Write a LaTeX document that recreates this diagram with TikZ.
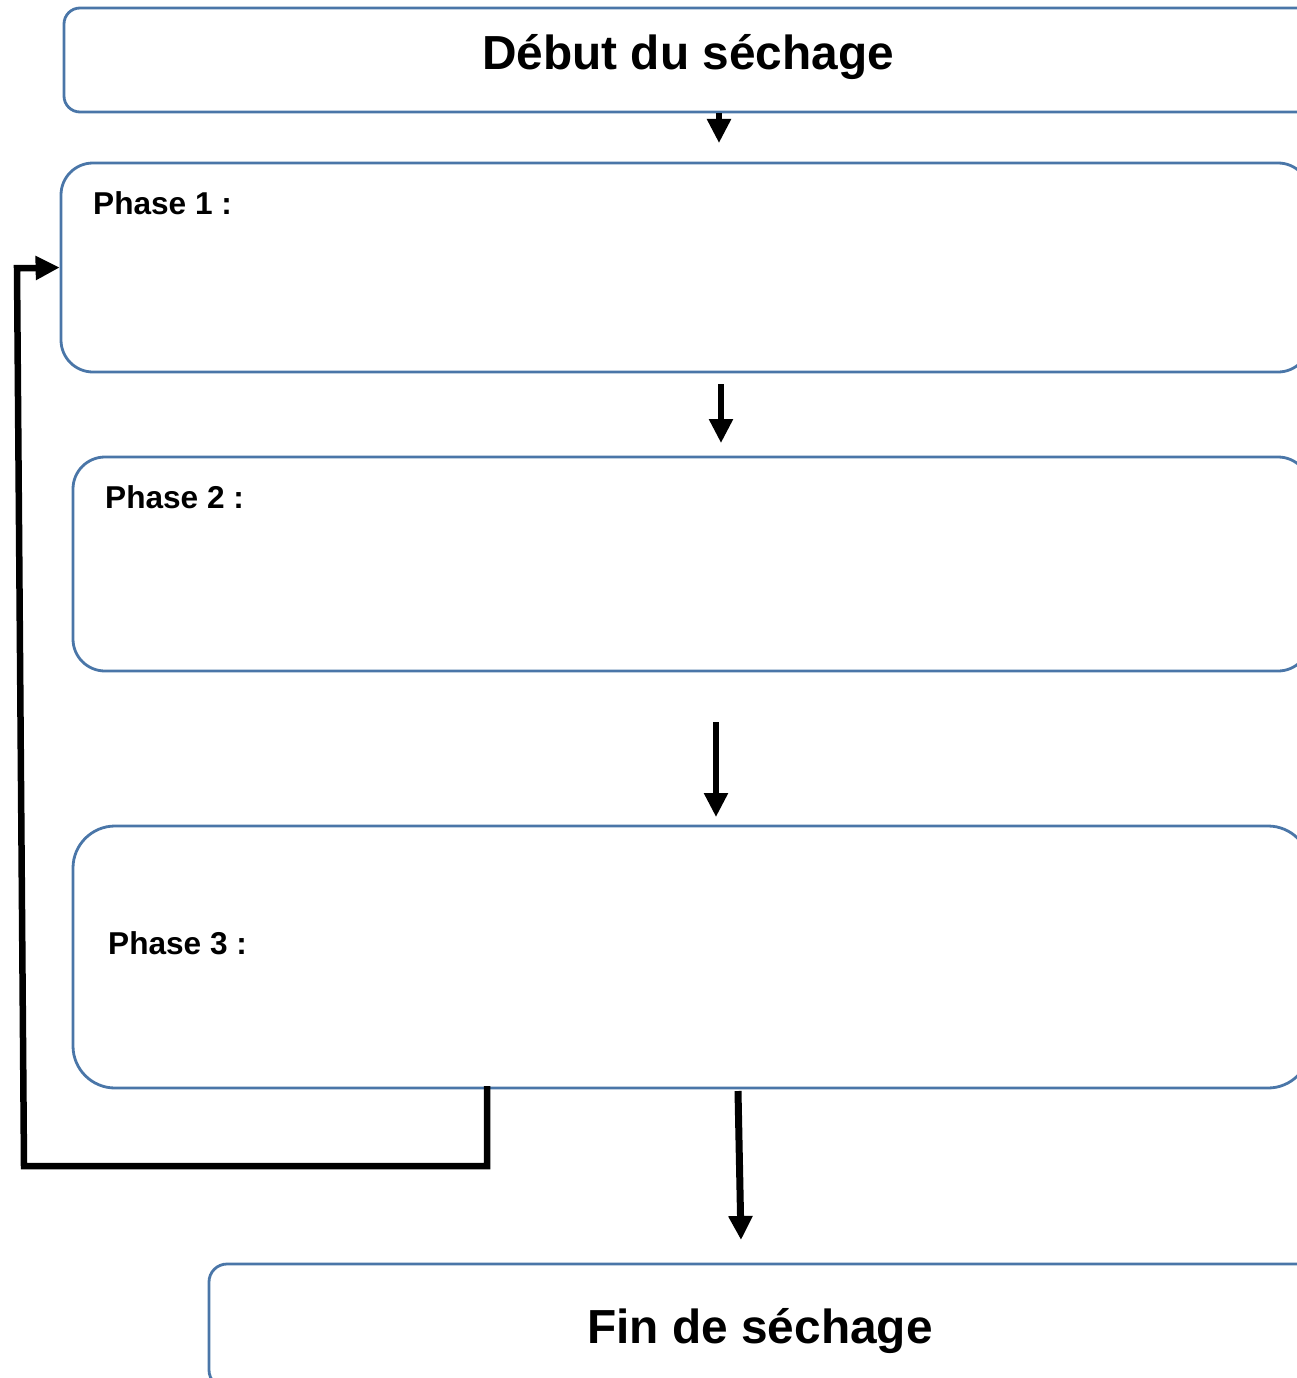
\documentclass[tikz,border=0pt]{standalone}
\usepackage{fontspec}
\setmainfont{Liberation Sans}
\usetikzlibrary{arrows.meta}
\definecolor{boxblue}{HTML}{4A76A8}
\tikzset{
  stagebox/.style={draw=boxblue, line width=2.8pt, rectangle, inner sep=0pt},
  bigtext/.style={font=\fontsize{47.8}{50}\selectfont\bfseries, inner sep=0pt, anchor=base},
  phasetext/.style={font=\fontsize{31.6}{34}\selectfont\bfseries, inner sep=0pt, anchor=base west},
  flowarrow/.style={line width=5.5pt, -{Triangle[length=24pt,width=23pt]}},
  loopline/.style={line width=6.5pt, line cap=rect}
}
\begin{document}
\begin{tikzpicture}[x=1pt,y=-1pt]
\useasboundingbox (0,0) rectangle (1297,1378);
% boxes
\node[stagebox, rounded corners=16pt, minimum width=1256pt, minimum height=104pt] (top) at (692,60) {};
\node[stagebox, rounded corners=32pt, minimum width=1249pt, minimum height=209pt] (p1) at (685.5,267.5) {};
\node[stagebox, rounded corners=32pt, minimum width=1237pt, minimum height=214pt] (p2) at (691.5,564) {};
\node[stagebox, rounded corners=42pt, minimum width=1237pt, minimum height=262pt] (p3) at (691.5,957) {};
\node[stagebox, rounded corners=18pt, minimum width=1111pt, minimum height=124pt] (fin) at (764.5,1326) {};
% texts
\node[bigtext] (ttop) at (688,70) {Début du séchage};
\node[phasetext] (t1) at (93,214) {Phase 1 :};
\node[phasetext] (t2) at (105,508) {Phase 2 :};
\node[phasetext] (t3) at (108,954) {Phase 3 :};
\node[bigtext] (tfin) at (760,1343) {Fin de séchage};
% arrows
\coordinate (a1) at (719,143);
\draw[flowarrow] (top.south -| a1) -- (a1);
\coordinate (a2s) at (721,384);
\coordinate (a2e) at (721,443);
\draw[flowarrow] (a2s) -- (a2e);
\coordinate (a3s) at (716,722);
\coordinate (a3e) at (716,817);
\draw[flowarrow] (a3s) -- (a3e);
\coordinate (a4s) at (738,1091);
\coordinate (a4e) at (741,1240);
\draw[flowarrow, line width=7pt] (a4s) -- (a4e);
% loop back
\coordinate (l1) at (487,1166);
\coordinate (l2) at (24,1166);
\coordinate (l3) at (17,268);
\draw[loopline] (p3.south -| l1) -- (l1) -- (l2) -- (l3) -- (l3 -| 38,0);
\draw[line width=5.5pt, -{Triangle[length=24pt,width=23pt]}] (l3 -| 36,0) -- (p1.west);
\end{tikzpicture}
\end{document}
